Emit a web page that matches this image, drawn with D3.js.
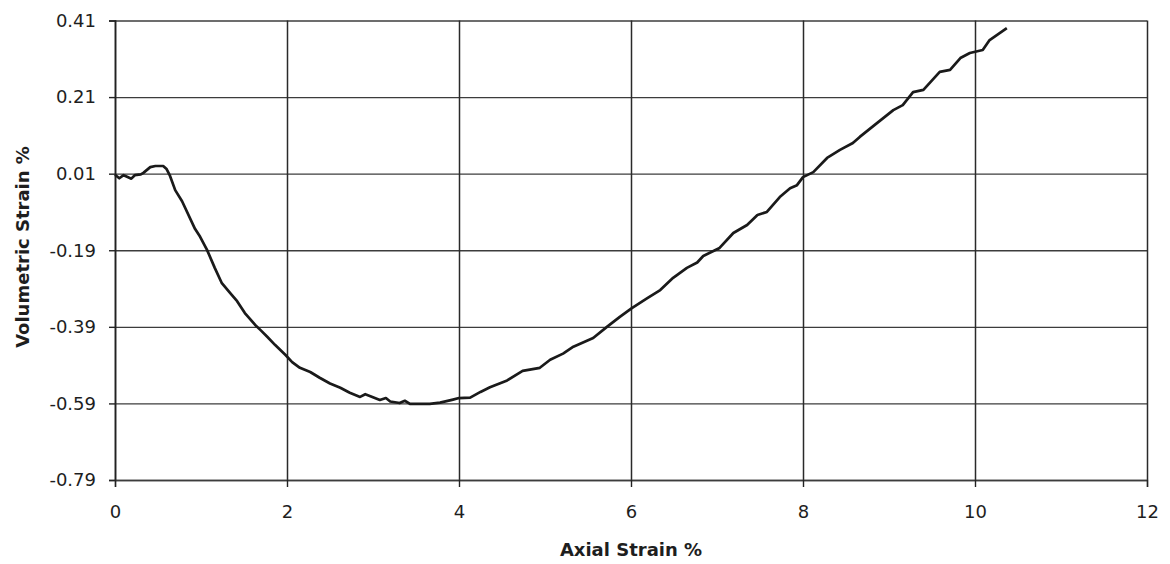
<!DOCTYPE html>
<html>
<head>
<meta charset="utf-8">
<script src="https://cdn.jsdelivr.net/npm/d3@7"></script>
<style>
    body { margin: 0; background: #fff; }
    svg text { font-family: "DejaVu Sans", sans-serif; fill: #1e1e1e; }
</style>
</head>
<body>
<svg id="chart"></svg>
<script>
// Tick values, as printed on the chart
const xTicks = [0, 2, 4, 6, 8, 10, 12];
const yTicks = [-0.79, -0.59, -0.39, -0.19, 0.01, 0.21, 0.41];

// Curve: axial strain (%) vs volumetric strain (%)
const axialStrain = [
    0, 0.05, 0.1, 0.14, 0.19, 0.23, 0.3, 0.33, 0.41, 0.47, 0.56, 0.6, 0.64, 0.7, 0.78,
    0.93, 0.99, 1.07, 1.16, 1.24, 1.34, 1.42, 1.51, 1.63, 1.69, 1.77, 1.86, 1.98, 2.06,
    2.15, 2.27, 2.38, 2.5, 2.62, 2.73, 2.85, 2.91, 2.97, 3.08, 3.15, 3.2, 3.31, 3.37,
    3.43, 3.55, 3.66, 3.78, 3.93, 4.0, 4.13, 4.25, 4.36, 4.56, 4.74, 4.94, 5.06, 5.21,
    5.33, 5.56, 5.72, 5.87, 6.01, 6.19, 6.34, 6.49, 6.65, 6.77, 6.84, 7.03, 7.19, 7.35,
    7.47, 7.58, 7.73, 7.85, 7.93, 8.0, 8.12, 8.28, 8.43, 8.58, 8.66, 8.86, 9.05, 9.16,
    9.28, 9.4, 9.59, 9.71, 9.83, 9.94, 10.09, 10.17, 10.37
];
const volStrain = [
    0.007, -0.002, 0.006, 0.002, -0.003, 0.006, 0.008, 0.012, 0.027, 0.03, 0.03, 0.022, 0.004, -0.033, -0.062,
    -0.134, -0.155, -0.189, -0.236, -0.275, -0.302, -0.323, -0.354, -0.385, -0.398, -0.416, -0.437, -0.463, -0.482,
    -0.497, -0.508, -0.523, -0.538, -0.549, -0.562, -0.573, -0.566, -0.571, -0.581, -0.576, -0.585, -0.589, -0.583,
    -0.591, -0.591, -0.591, -0.588, -0.58, -0.576, -0.575, -0.56, -0.548, -0.53, -0.505, -0.497, -0.476, -0.46,
    -0.442, -0.419, -0.39, -0.364, -0.341, -0.315, -0.294, -0.262, -0.236, -0.222, -0.205, -0.184, -0.145, -0.124,
    -0.098, -0.09, -0.051, -0.028, -0.02, 0.001, 0.014, 0.051, 0.072, 0.09, 0.106, 0.142, 0.176, 0.189,
    0.223, 0.229, 0.276, 0.281, 0.312, 0.325, 0.333, 0.359, 0.39
];

const config = {
    containerWidth: 1170,
    containerHeight: 564,
    margin: {top: 20.5, right: 23, bottom: 84, left: 115}
};

const width = config.containerWidth - config.margin.left - config.margin.right;
const height = config.containerHeight - config.margin.top - config.margin.bottom;

const svg = d3.select('#chart')
    .attr('width', config.containerWidth)
    .attr('height', config.containerHeight);

const chart = svg.append('g')
    .attr('transform', `translate(${config.margin.left},${config.margin.top})`);

const xScale = d3.scaleLinear().domain([0, 12]).range([0, width]);
const yScale = d3.scaleLinear().domain([-0.79, 0.41]).range([height, 0]);

// Gridlines (these also make the frame)
chart.append('g')
    .attr('class', 'grid-y')
    .call(d3.axisLeft(yScale).tickValues(yTicks).tickSize(-width).tickFormat(''))
    .call(g => g.select('.domain').remove())
    .selectAll('line')
    .attr('stroke', '#3c3c3c')
    .attr('stroke-width', 1.4);

chart.append('g')
    .attr('class', 'grid-x')
    .attr('transform', `translate(0,${height})`)
    .call(d3.axisBottom(xScale).tickValues(xTicks).tickSize(height).tickFormat(''))
    .call(g => g.select('.domain').remove())
    .selectAll('line')
    .attr('transform', `translate(0,${-height})`)
    .attr('stroke', '#2a2a2a')
    .attr('stroke-width', 1.5);

// Axes with short outer ticks
const yAxis = chart.append('g')
    .call(d3.axisLeft(yScale).tickValues(yTicks).tickSize(6).tickPadding(13)
        .tickFormat(d => d.toFixed(2)));
yAxis.select('.domain').attr('stroke', '#222').attr('stroke-width', 1.6);
yAxis.selectAll('line').attr('stroke', '#222').attr('stroke-width', 1.4);
yAxis.selectAll('text')
    .style('font-size', '18px')
    .attr('fill', '#1e1e1e');

const xAxis = chart.append('g')
    .attr('transform', `translate(0,${height})`)
    .call(d3.axisBottom(xScale).tickValues(xTicks).tickSize(7).tickPadding(18));
xAxis.select('.domain').attr('stroke', '#3c3c3c').attr('stroke-width', 1.4);
xAxis.selectAll('line').attr('stroke', '#222').attr('stroke-width', 1.4);
xAxis.selectAll('text')
    .style('font-size', '18px')
    .attr('fill', '#1e1e1e');

// Data curve
const line = d3.line()
    .x(d => xScale(d[0]))
    .y(d => yScale(d[1]));

chart.append('path')
    .datum(d3.zip(axialStrain, volStrain))
    .attr('fill', 'none')
    .attr('stroke', '#1a1a1a')
    .attr('stroke-width', 2.7)
    .attr('stroke-linejoin', 'round')
    .attr('d', line);

// Axis titles
svg.append('text')
    .attr('x', config.margin.left + xScale(6))
    .attr('y', 556)
    .attr('text-anchor', 'middle')
    .style('font-size', '18px')
    .style('font-weight', 'bold')
    .text('Axial Strain %');

svg.append('text')
    .attr('transform', 'translate(29,247) rotate(-90)')
    .attr('text-anchor', 'middle')
    .style('font-size', '18px')
    .style('font-weight', 'bold')
    .text('Volumetric Strain  %');
</script>
</body>
</html>
